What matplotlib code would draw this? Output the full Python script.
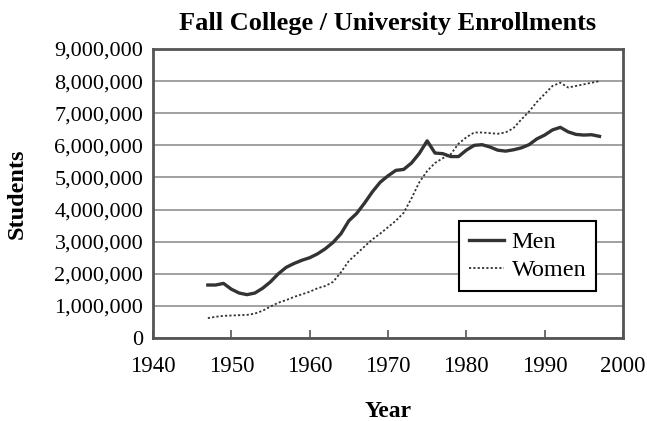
import matplotlib
matplotlib.use("Agg")
import matplotlib.pyplot as plt
from matplotlib.ticker import FuncFormatter

years = list(range(1947, 1998))
men = [1.65, 1.65, 1.70, 1.52, 1.40, 1.35, 1.40, 1.55, 1.75, 2.00,
       2.20, 2.32, 2.42, 2.50, 2.62, 2.78, 2.98, 3.25, 3.65, 3.88,
       4.20, 4.55, 4.85, 5.05, 5.22, 5.25, 5.45, 5.75, 6.14, 5.76,
       5.74, 5.65, 5.65, 5.85, 6.00, 6.02, 5.95, 5.85, 5.82, 5.86,
       5.92, 6.02, 6.20, 6.32, 6.48, 6.56, 6.42, 6.34, 6.32, 6.33, 6.28]
women = [0.62, 0.66, 0.69, 0.70, 0.71, 0.72, 0.76, 0.85, 0.98, 1.10,
         1.18, 1.28, 1.36, 1.44, 1.55, 1.62, 1.75, 2.05, 2.40, 2.62,
         2.85, 3.07, 3.25, 3.45, 3.65, 3.90, 4.35, 4.85, 5.20, 5.45,
         5.60, 5.72, 6.05, 6.25, 6.40, 6.40, 6.38, 6.36, 6.40, 6.53,
         6.80, 7.05, 7.35, 7.60, 7.85, 7.95, 7.80, 7.85, 7.90, 7.95, 8.00]
men = [v * 1e6 for v in men]
women = [v * 1e6 for v in women]
xticks = [1940, 1950, 1960, 1970, 1980, 1990, 2000]
yticks = [i * 1e6 for i in range(10)]

plt.rcParams['font.family'] = ['Liberation Serif', 'DejaVu Serif']

fig = plt.figure(figsize=(6.47, 4.21), dpi=100)
ax = fig.add_axes([153/647, 83/421, 470/647, 289/421])

ax.plot(years, men, color='#333333', lw=2.4, label='Men')
ax.plot(years, women, color='#333333', lw=1.3, ls=(0, (1.2, 1.2)), label='Women')

ax.set_xlim(1940, 2000)
ax.set_ylim(0, 9e6)
ax.set_xticks(xticks)
ax.set_yticks(yticks)
ax.yaxis.set_major_formatter(FuncFormatter(lambda v, p: f"{int(round(v)):,}"))
ax.grid(axis='y', color='#999999', lw=1.3)
ax.set_axisbelow(True)
for s in ax.spines.values():
    s.set_color('#555555')
    s.set_linewidth(2)
ax.tick_params(axis='x', direction='in', length=6, width=1.2, color='#555555', labelsize=16.5, pad=13)
ax.tick_params(axis='y', length=0, labelsize=16, pad=7)

ax.set_title('Fall College / University Enrollments', fontsize=19, fontweight='bold', pad=14)
ax.set_xlabel('Year', fontsize=17, fontweight='bold', labelpad=17)
ax.set_ylabel('Students', fontsize=17.5, fontweight='bold', labelpad=19)

leg = ax.legend(loc='lower right', bbox_to_anchor=(0.9426, 0.163), fontsize=17.5,
                fancybox=False, framealpha=1, edgecolor='black', handlelength=1.45,
                handletextpad=0.3, borderpad=0.4, labelspacing=0.25,
                borderaxespad=0)
leg.get_frame().set_linewidth(1.5)

fig.savefig('out.png', dpi=100)
